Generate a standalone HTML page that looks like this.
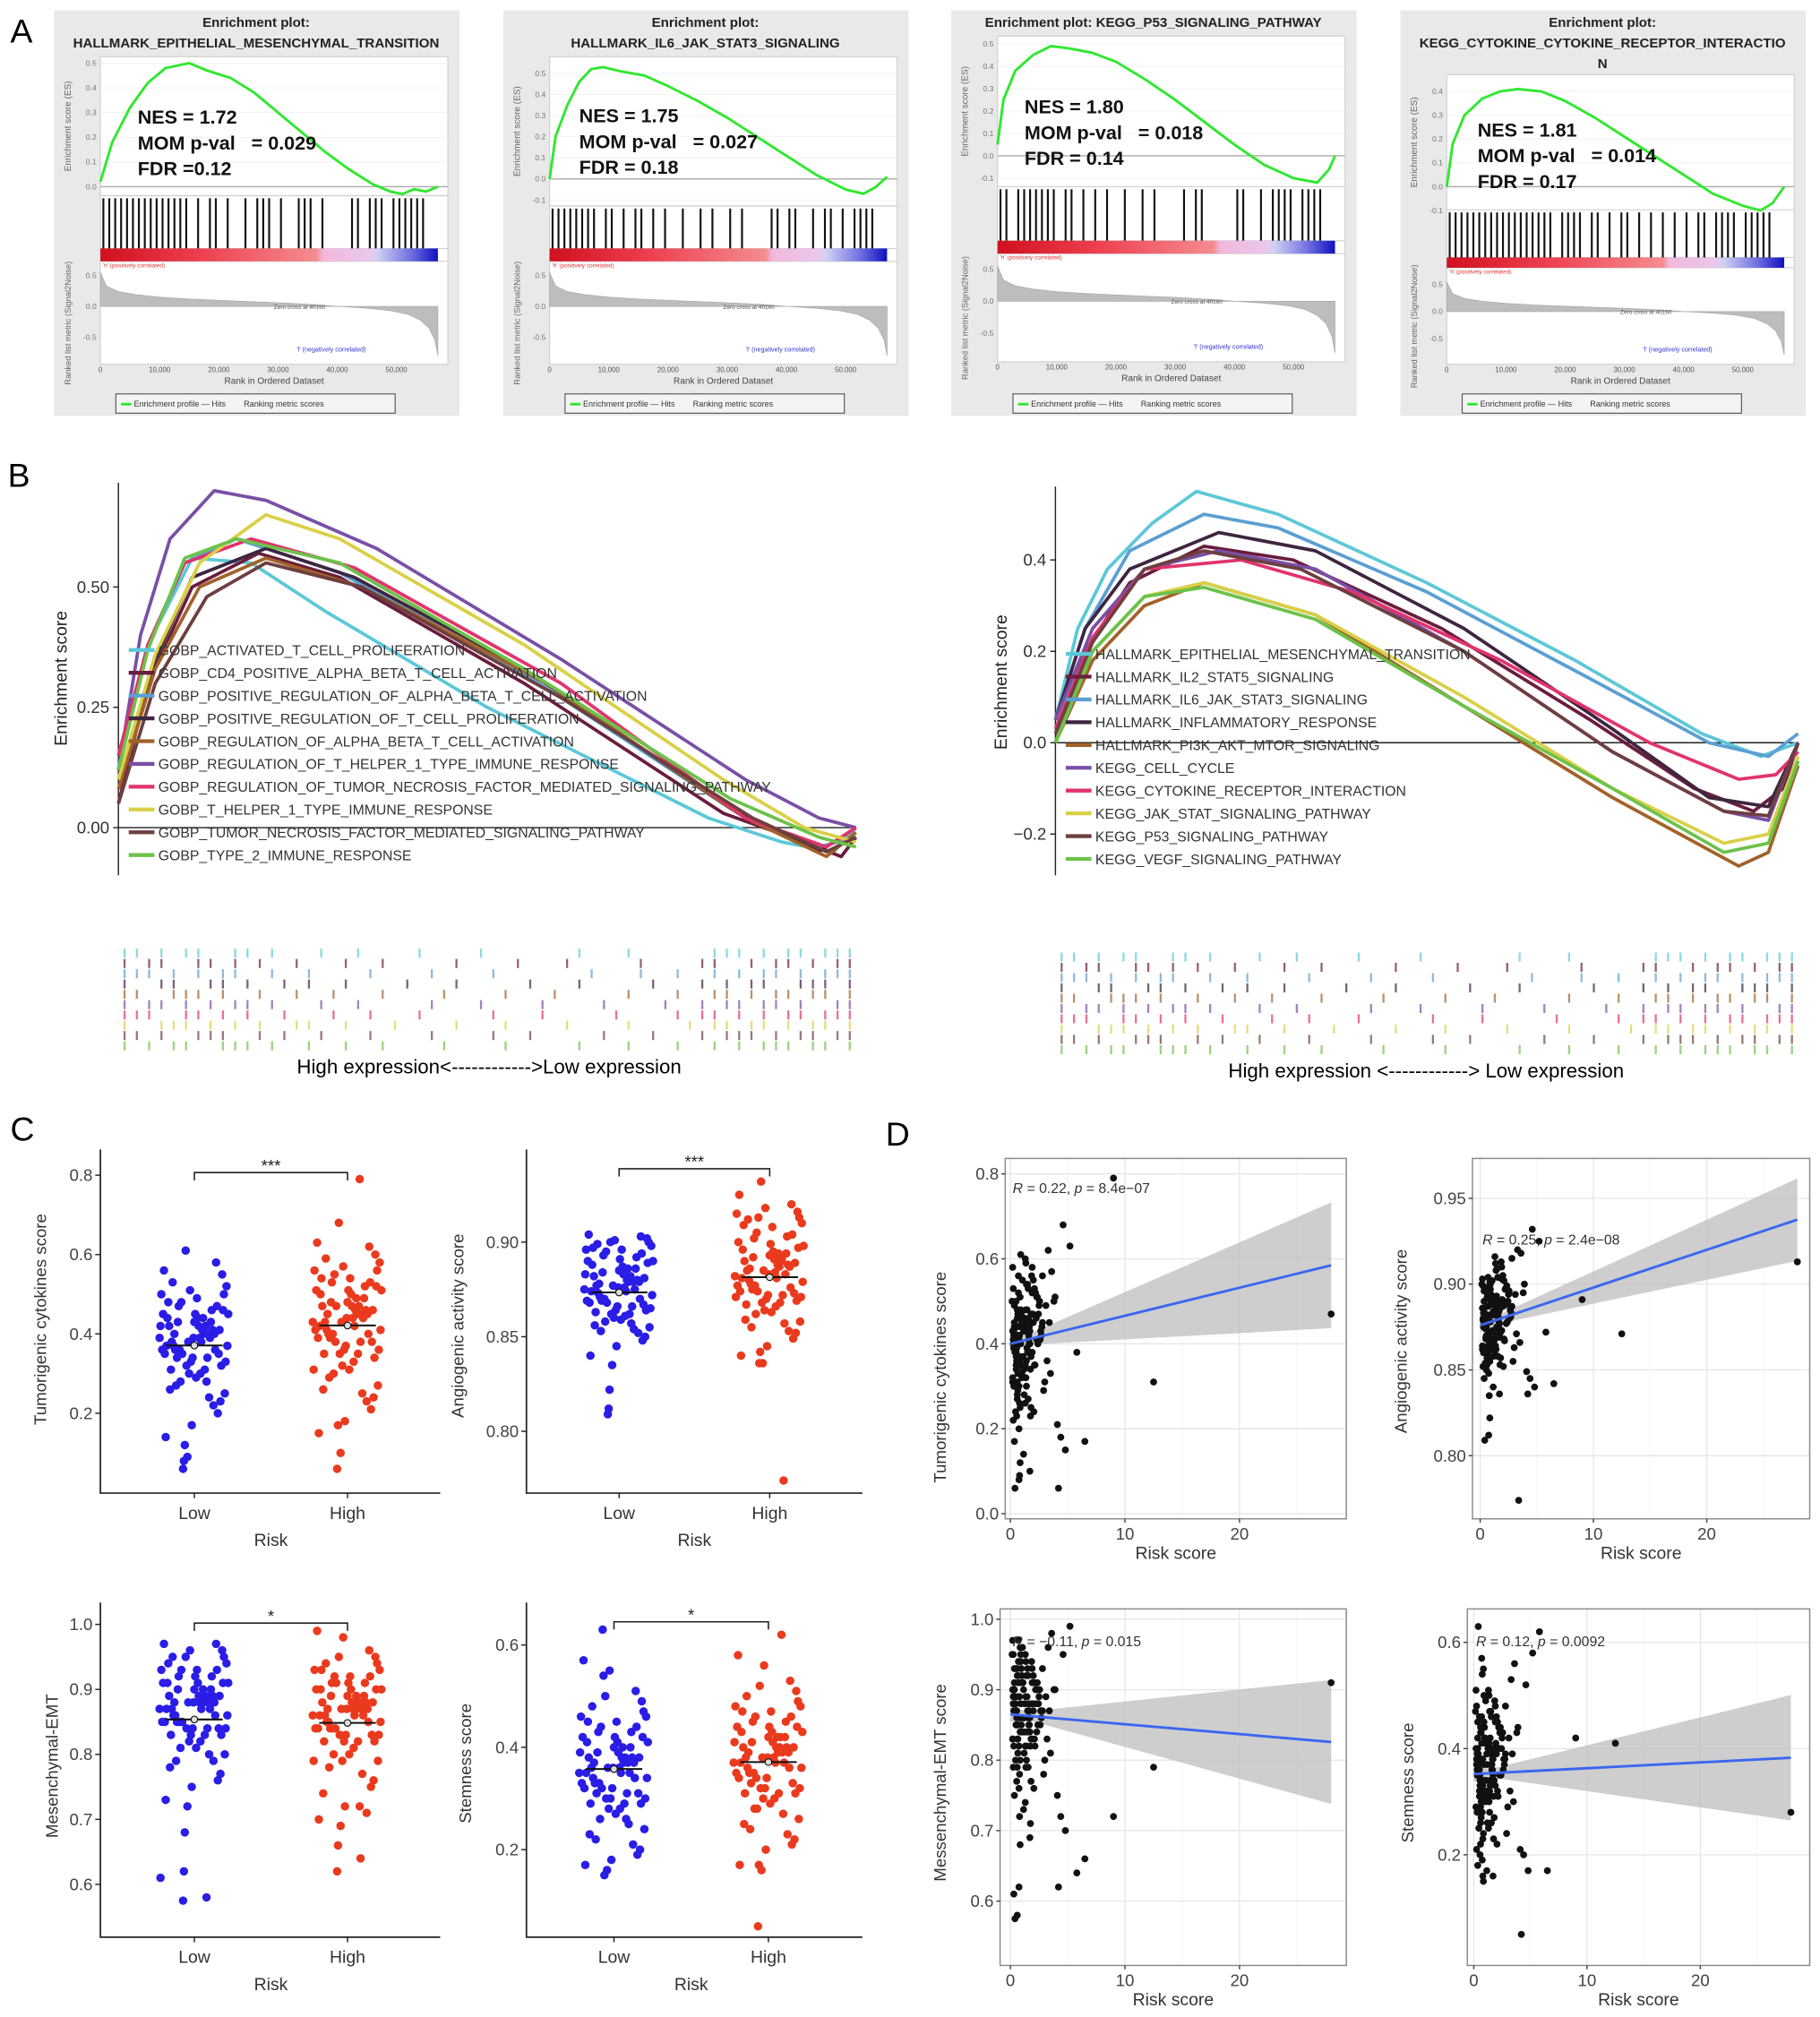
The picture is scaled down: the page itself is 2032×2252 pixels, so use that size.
<!DOCTYPE html>
<html><head><meta charset="utf-8"><title>GSEA and risk score figure</title>
<style>
html,body{margin:0;padding:0;background:#fff;}
svg{display:block;font-family:"Liberation Sans",Arial,sans-serif;}
.pre{white-space:pre;}
</style></head>
<body>
<svg id="fig" xmlns="http://www.w3.org/2000/svg" width="2032" height="2252" viewBox="0 0 1414 1567">
<defs>
<linearGradient id="cbgrad" x1="0" x2="1" y1="0" y2="0">
<stop offset="0" stop-color="#d0101e"/><stop offset="0.3" stop-color="#ee4050"/><stop offset="0.64" stop-color="#f48c90"/>
<stop offset="0.66" stop-color="#f2b8dc"/><stop offset="0.8" stop-color="#e8c8ec"/><stop offset="0.82" stop-color="#d0d0f4"/>
<stop offset="0.92" stop-color="#7070e0"/><stop offset="1" stop-color="#1010c0"/>
</linearGradient>
</defs>
<text x="8" y="33" font-size="26">A</text>
<text x="6" y="378" font-size="26">B</text>
<text x="8" y="886" font-size="26">C</text>
<text x="688" y="890" font-size="26">D</text>
<text x="380" y="834" font-size="15.5" text-anchor="middle" class="pre">High expression&lt;------------&gt;Low expression</text>
<text x="1108" y="837" font-size="15.5" text-anchor="middle" class="pre">High expression &lt;------------&gt; Low expression</text>
</svg>
<script>
// ---------- DATA ----------
const gseaRanks1=[0,2,5,8,11,15,18,22,26,30,34,38,42,46,49,51,53,55,57];
const gseaES1=[0.02,0.18,0.32,0.42,0.48,0.50,0.47,0.44,0.38,0.30,0.22,0.14,0.07,0.01,-0.02,-0.03,-0.01,-0.02,0.0];
const gseaRanks2=[0,1,3,5,7,9,12,16,20,25,30,35,40,45,50,53,55,57];
const gseaES2=[0.0,0.2,0.35,0.46,0.52,0.53,0.51,0.49,0.44,0.37,0.29,0.20,0.11,0.02,-0.05,-0.07,-0.04,0.01];
const gseaRanks3=[0,1,3,6,9,12,16,20,25,30,35,40,45,50,54,56,57];
const gseaES3=[0.05,0.25,0.38,0.45,0.49,0.48,0.46,0.42,0.34,0.25,0.15,0.05,-0.04,-0.10,-0.12,-0.06,0.0];
const gseaRanks4=[0,1,3,6,9,12,16,20,25,30,35,40,45,50,53,55,57];
const gseaES4=[0.0,0.18,0.30,0.37,0.40,0.41,0.40,0.36,0.29,0.21,0.13,0.05,-0.03,-0.08,-0.10,-0.07,0.0];
const gseaHits=[
"1111111111111110101101001011101001110100001101110111111",
"1111111101101011010100100101001010000110110010110101111",
"1101111111011010101001001010000101100000110010111101111",
"1111111111111111110111101101011010101010101101111011111"];
const gseaTitles=[["Enrichment plot:","HALLMARK_EPITHELIAL_MESENCHYMAL_TRANSITION"],["Enrichment plot:","HALLMARK_IL6_JAK_STAT3_SIGNALING"],["Enrichment plot: KEGG_P53_SIGNALING_PATHWAY"],["Enrichment plot:","KEGG_CYTOKINE_CYTOKINE_RECEPTOR_INTERACTIO","N"]];
const gseaNES=["1.72","1.75","1.80","1.81"];
const gseaPval=["0.029","0.027","0.018","0.014"];
const gseaFDR=["=0.12","= 0.18","= 0.14","= 0.17"];
const metricRanks=[0,1,3,6,10,15,22,30,36,40.16,45,49,52,54,55.5,56.5,57];
const metricVals=[0.55,0.33,0.24,0.19,0.15,0.12,0.09,0.06,0.03,0.0,-0.03,-0.07,-0.13,-0.22,-0.35,-0.55,-0.8];

const bLeftNames=["GOBP_ACTIVATED_T_CELL_PROLIFERATION","GOBP_CD4_POSITIVE_ALPHA_BETA_T_CELL_ACTIVATION","GOBP_POSITIVE_REGULATION_OF_ALPHA_BETA_T_CELL_ACTIVATION","GOBP_POSITIVE_REGULATION_OF_T_CELL_PROLIFERATION","GOBP_REGULATION_OF_ALPHA_BETA_T_CELL_ACTIVATION","GOBP_REGULATION_OF_T_HELPER_1_TYPE_IMMUNE_RESPONSE","GOBP_REGULATION_OF_TUMOR_NECROSIS_FACTOR_MEDIATED_SIGNALING_PATHWAY","GOBP_T_HELPER_1_TYPE_IMMUNE_RESPONSE","GOBP_TUMOR_NECROSIS_FACTOR_MEDIATED_SIGNALING_PATHWAY","GOBP_TYPE_2_IMMUNE_RESPONSE"];
const bRightNames=["HALLMARK_EPITHELIAL_MESENCHYMAL_TRANSITION","HALLMARK_IL2_STAT5_SIGNALING","HALLMARK_IL6_JAK_STAT3_SIGNALING","HALLMARK_INFLAMMATORY_RESPONSE","HALLMARK_PI3K_AKT_MTOR_SIGNALING","KEGG_CELL_CYCLE","KEGG_CYTOKINE_RECEPTOR_INTERACTION","KEGG_JAK_STAT_SIGNALING_PATHWAY","KEGG_P53_SIGNALING_PATHWAY","KEGG_VEGF_SIGNALING_PATHWAY"];
const bColors=["#5cc8d8","#6a1d3c","#5b9fd2","#3e2540","#a2622a","#7a4fa6","#e2336c","#d9d047","#6d3f3f","#6cc24a"];
const bLeftX=[
[0,0.04,0.1,0.18,0.28,0.5,0.8,0.9,0.97,1],
[0,0.04,0.1,0.19,0.3,0.55,0.82,0.93,0.98,1],
[0,0.04,0.09,0.16,0.3,0.55,0.84,0.95,1],
[0,0.05,0.1,0.2,0.32,0.55,0.83,0.95,1],
[0,0.05,0.11,0.2,0.33,0.58,0.85,0.96,1],
[0,0.03,0.07,0.13,0.2,0.35,0.6,0.85,0.95,1],
[0,0.04,0.09,0.18,0.32,0.6,0.85,0.96,1],
[0,0.05,0.11,0.2,0.3,0.55,0.82,0.93,1],
[0,0.05,0.12,0.2,0.33,0.6,0.86,0.96,1],
[0,0.04,0.09,0.16,0.3,0.55,0.83,0.95,1]];
const bLeftES=[
[0.15,0.38,0.56,0.55,0.45,0.25,0.02,-0.03,-0.05,0],
[0.05,0.3,0.5,0.57,0.52,0.3,0.03,-0.03,-0.06,-0.02],
[0.12,0.38,0.55,0.6,0.53,0.32,0.03,-0.04,-0.02],
[0.1,0.35,0.52,0.58,0.52,0.33,0.04,-0.05,0],
[0.08,0.33,0.5,0.56,0.5,0.3,0.02,-0.06,-0.01],
[0.12,0.4,0.6,0.7,0.68,0.58,0.35,0.1,0.02,0],
[0.15,0.38,0.55,0.6,0.54,0.3,0.02,-0.04,0],
[0.1,0.36,0.55,0.65,0.6,0.38,0.1,0.0,-0.03],
[0.05,0.3,0.48,0.55,0.5,0.27,0.02,-0.05,-0.02],
[0.12,0.37,0.56,0.6,0.55,0.33,0.06,-0.02,-0.04]];
const bRightX=[
[0,0.03,0.07,0.13,0.19,0.3,0.5,0.7,0.87,0.95,1],
[0,0.04,0.1,0.2,0.32,0.52,0.72,0.86,0.94,0.98,1],
[0,0.04,0.1,0.2,0.3,0.5,0.72,0.88,0.96,1],
[0,0.04,0.1,0.22,0.35,0.55,0.75,0.88,0.96,1],
[0,0.05,0.12,0.2,0.35,0.55,0.75,0.92,0.96,1],
[0,0.05,0.12,0.22,0.35,0.55,0.75,0.9,0.96,1],
[0,0.05,0.12,0.25,0.4,0.6,0.8,0.92,0.97,1],
[0,0.05,0.12,0.2,0.35,0.55,0.75,0.9,0.96,1],
[0,0.05,0.12,0.2,0.33,0.55,0.75,0.9,0.96,1],
[0,0.05,0.12,0.2,0.35,0.55,0.75,0.9,0.96,1]];
const bRightES=[
[0.05,0.25,0.38,0.48,0.55,0.5,0.35,0.18,0.02,-0.03,0],
[0.0,0.2,0.35,0.43,0.4,0.25,0.05,-0.1,-0.15,-0.1,0],
[0.05,0.25,0.42,0.5,0.47,0.33,0.14,0.0,-0.03,0.02],
[0.05,0.25,0.38,0.46,0.42,0.25,0.03,-0.12,-0.14,0],
[0.0,0.18,0.3,0.35,0.28,0.08,-0.12,-0.27,-0.24,-0.05],
[0.05,0.25,0.38,0.42,0.38,0.2,-0.02,-0.15,-0.17,0],
[0.03,0.23,0.38,0.4,0.33,0.18,0.0,-0.08,-0.07,-0.02],
[0.0,0.2,0.32,0.35,0.28,0.1,-0.1,-0.22,-0.2,-0.03],
[0.02,0.22,0.38,0.42,0.38,0.2,-0.02,-0.15,-0.16,0],
[0.0,0.2,0.32,0.34,0.27,0.08,-0.1,-0.24,-0.22,-0.04]];
const rugRows=[
"110101100110100010010000100001000000010001000000111010110111",
"101100110101001000100100000100001000100000100001100101101011",
"111010101100100100001000010000100000001000100100101011010111",
"100110011010010100100001000100000100010000010001010110011101",
"110011101001001001000100001000010001000001000100110101101101",
"101101010110100010010000010001000010000100001001011011010011",
"111001101010010001001000100000100010000010000101101010110111",
"100111010101001100100010000100010000100001000010110110101101",
"110100111001010010001000010000100100000100010001011101011011",
"101011001110100100100100001000010000010001000100101011101101"];

const tumorLow=[0.39,0.42,0.35,0.45,0.31,0.48,0.37,0.40,0.28,0.52,0.44,0.36,0.33,0.41,0.47,0.25,0.38,0.43,0.50,0.30,0.34,0.46,0.39,0.27,0.55,0.42,0.36,0.32,0.44,0.40,0.23,0.49,0.37,0.41,0.29,0.53,0.35,0.45,0.38,0.20,0.43,0.31,0.47,0.39,0.26,0.58,0.34,0.42,0.36,0.17,0.48,0.40,0.33,0.44,0.22,0.51,0.37,0.41,0.30,0.14,0.46,0.38,0.35,0.43,0.09,0.56,0.39,0.32,0.45,0.24,0.61,0.36,0.40,0.12,0.50,0.34,0.08,0.42,0.28,0.06];
const tumorHigh=[0.43,0.47,0.38,0.51,0.35,0.55,0.41,0.45,0.30,0.58,0.49,0.40,0.36,0.46,0.53,0.27,0.42,0.48,0.56,0.33,0.39,0.52,0.44,0.29,0.60,0.47,0.40,0.34,0.50,0.45,0.24,0.54,0.41,0.46,0.31,0.59,0.38,0.51,0.43,0.21,0.48,0.35,0.53,0.44,0.26,0.62,0.37,0.47,0.40,0.18,0.54,0.45,0.36,0.50,0.23,0.57,0.42,0.46,0.32,0.15,0.52,0.43,0.39,0.49,0.10,0.63,0.44,0.35,0.51,0.25,0.68,0.41,0.45,0.17,0.56,0.38,0.06,0.31,0.79,0.47];
const angioLow=[0.875,0.882,0.868,0.890,0.862,0.895,0.872,0.879,0.858,0.898,0.886,0.870,0.865,0.880,0.893,0.855,0.874,0.884,0.900,0.861,0.869,0.889,0.876,0.853,0.902,0.883,0.871,0.864,0.887,0.878,0.850,0.896,0.873,0.881,0.859,0.899,0.867,0.891,0.877,0.848,0.885,0.863,0.894,0.876,0.856,0.903,0.866,0.882,0.870,0.845,0.897,0.879,0.864,0.888,0.852,0.901,0.874,0.880,0.860,0.840,0.892,0.877,0.868,0.886,0.835,0.904,0.875,0.862,0.890,0.854,0.900,0.869,0.879,0.822,0.896,0.866,0.812,0.883,0.857,0.809];
const angioHigh=[0.882,0.890,0.874,0.898,0.868,0.905,0.879,0.887,0.862,0.910,0.894,0.877,0.871,0.888,0.902,0.858,0.881,0.892,0.913,0.866,0.875,0.897,0.884,0.855,0.916,0.891,0.878,0.869,0.895,0.886,0.852,0.908,0.880,0.889,0.863,0.912,0.873,0.899,0.885,0.849,0.893,0.867,0.904,0.883,0.859,0.920,0.872,0.890,0.876,0.845,0.909,0.887,0.870,0.896,0.853,0.918,0.881,0.888,0.864,0.840,0.903,0.885,0.874,0.894,0.836,0.925,0.883,0.868,0.900,0.857,0.932,0.877,0.774,0.842,0.915,0.872,0.836,0.871,0.891,0.913];
const emtLow=[0.87,0.89,0.85,0.91,0.83,0.93,0.86,0.88,0.81,0.94,0.90,0.85,0.84,0.89,0.92,0.80,0.87,0.90,0.95,0.82,0.85,0.91,0.88,0.79,0.96,0.89,0.86,0.83,0.91,0.88,0.77,0.93,0.86,0.89,0.81,0.95,0.84,0.92,0.87,0.76,0.90,0.83,0.93,0.88,0.78,0.97,0.84,0.89,0.86,0.75,0.94,0.88,0.83,0.91,0.79,0.96,0.87,0.89,0.82,0.73,0.92,0.88,0.85,0.90,0.72,0.97,0.87,0.84,0.91,0.80,0.95,0.85,0.88,0.68,0.93,0.84,0.62,0.61,0.58,0.575];
const emtHigh=[0.86,0.88,0.84,0.90,0.82,0.92,0.85,0.87,0.80,0.93,0.89,0.84,0.83,0.88,0.91,0.79,0.86,0.89,0.94,0.81,0.84,0.90,0.87,0.78,0.95,0.88,0.85,0.82,0.90,0.87,0.76,0.92,0.85,0.88,0.80,0.94,0.83,0.91,0.86,0.75,0.89,0.82,0.92,0.87,0.74,0.96,0.83,0.88,0.85,0.72,0.93,0.87,0.82,0.90,0.71,0.98,0.86,0.88,0.79,0.70,0.91,0.87,0.84,0.89,0.69,0.99,0.86,0.83,0.90,0.77,0.95,0.84,0.87,0.66,0.93,0.64,0.62,0.79,0.72,0.91];
const stemLow=[0.35,0.38,0.32,0.41,0.29,0.44,0.34,0.37,0.26,0.46,0.40,0.33,0.30,0.38,0.43,0.24,0.35,0.39,0.47,0.28,0.31,0.42,0.36,0.22,0.49,0.39,0.33,0.29,0.41,0.37,0.20,0.45,0.34,0.38,0.27,0.48,0.31,0.42,0.36,0.19,0.40,0.29,0.44,0.36,0.23,0.51,0.32,0.38,0.34,0.18,0.45,0.37,0.30,0.41,0.21,0.55,0.35,0.38,0.28,0.17,0.43,0.36,0.32,0.40,0.16,0.57,0.35,0.30,0.42,0.25,0.50,0.33,0.37,0.15,0.46,0.31,0.54,0.39,0.26,0.63];
const stemHigh=[0.37,0.40,0.34,0.43,0.31,0.46,0.36,0.39,0.28,0.48,0.42,0.35,0.32,0.40,0.45,0.26,0.37,0.41,0.49,0.30,0.33,0.44,0.38,0.24,0.51,0.41,0.35,0.31,0.43,0.39,0.22,0.47,0.36,0.40,0.29,0.50,0.33,0.44,0.38,0.21,0.42,0.31,0.46,0.38,0.25,0.53,0.34,0.40,0.36,0.20,0.47,0.39,0.32,0.43,0.23,0.56,0.37,0.40,0.30,0.17,0.45,0.38,0.34,0.42,0.16,0.58,0.37,0.32,0.44,0.27,0.52,0.35,0.39,0.17,0.48,0.62,0.05,0.41,0.42,0.28];
const riskLow=[0.3,0.8,0.5,1.1,0.2,0.6,0.9,0.4,1.2,0.7,0.35,0.55,1.0,0.25,0.65,0.85,0.45,1.15,0.15,0.75,0.5,0.95,0.3,0.6,1.05,0.4,0.8,0.2,0.7,0.9,0.55,0.35,1.1,0.45,0.65,0.25,0.85,1.0,0.5,0.75,0.3,0.6,0.95,0.4,0.8,0.2,1.2,0.7,0.55,0.35,0.9,0.45,0.65,1.05,0.25,0.85,0.5,0.75,0.3,1.15,0.6,0.4,0.95,0.2,0.8,0.7,0.55,1.0,0.35,0.45,0.9,0.65,0.25,0.85,0.5,1.1,0.75,0.3,0.6,0.4];
const riskHigh=[1.2,1.8,1.5,2.3,1.3,2.0,1.6,2.8,1.4,1.9,2.5,1.7,3.2,1.25,2.1,1.55,2.7,1.35,1.85,3.5,1.45,2.2,1.65,2.9,1.3,1.95,2.4,1.75,3.8,1.5,2.05,1.4,2.6,1.6,3.0,1.35,1.9,2.35,1.7,4.1,1.45,2.15,1.55,2.75,1.3,3.3,1.8,2.45,1.65,4.4,1.5,2.0,1.4,2.55,1.75,3.6,1.6,2.25,1.35,4.8,1.9,2.65,1.45,3.1,1.7,5.2,1.55,2.1,3.9,1.8,4.6,2.3,3.4,6.5,2.8,5.8,4.2,12.5,9.0,28.0];
const cTitles=["Tumorigenic cytokines score","Angiogenic activity score","Mesenchymal-EMT","Stemness score"];
const dTitles=["Tumorigenic cytokines score","Angiogenic activity score","Messenchymal-EMT score","Stemness score"];
const cSig=["***","***","*","*"];
const cTicks=[[0.2,0.4,0.6,0.8],[0.80,0.85,0.90],[0.6,0.7,0.8,0.9,1.0],[0.2,0.4,0.6]];
const cTickLabels=[["0.2","0.4","0.6","0.8"],["0.80","0.85","0.90"],["0.6","0.7","0.8","0.9","1.0"],["0.2","0.4","0.6"]];
const dTicks=[[0,0.2,0.4,0.6,0.8],[0.80,0.85,0.90,0.95],[0.6,0.7,0.8,0.9,1.0],[0.2,0.4,0.6]];
const dTickLabels=[["0.0","0.2","0.4","0.6","0.8"],["0.80","0.85","0.90","0.95"],["0.6","0.7","0.8","0.9","1.0"],["0.2","0.4","0.6"]];
const riskTicks=[0,10,20];
const corrR=["0.22","0.25","\u22120.11","0.12"];
const corrP=["8.4e\u221207","2.4e\u221208","0.015","0.0092"];
const fitIntercept=[0.40,0.876,0.865,0.352];
const fitSlope=[0.0066,0.0022,-0.0014,0.0011];
const bandHalfMin=[0.012,0.0025,0.006,0.008];
const bandHalfEnd=[0.148,0.024,0.088,0.118];

// ---------- HELPERS ----------
const NS="http://www.w3.org/2000/svg";
const svg=document.getElementById('fig');
function mk(tag,attrs,parent){const e=document.createElementNS(NS,tag);for(const k in attrs)e.setAttribute(k,attrs[k]);(parent||svg).appendChild(e);return e;}
function tx(x,y,s,attrs,parent){const e=mk('text',Object.assign({x:x,y:y},attrs||{}),parent);e.textContent=s;return e;}
function grp(){return mk('g',{});}

// ---------- PANEL A ----------
const aBoxes=[
{x0:42,titleY:[17,33],esTop:44,esBot:152,esZero:145,esPer:192,esTicks:[0,0.1,0.2,0.3,0.4,0.5],hitsBot:193,cbBot:203,metTop:203,metBot:283,metZero:238,metPer:48,nes:[107,96]},
{x0:391,titleY:[17,33],esTop:44,esBot:160,esZero:139,esPer:164,esTicks:[-0.1,0,0.1,0.2,0.3,0.4,0.5],hitsBot:193,cbBot:203,metTop:203,metBot:283,metZero:238,metPer:48,nes:[450,95]},
{x0:739,titleY:[17],esTop:28,esBot:145,esZero:121,esPer:174,esTicks:[-0.1,0,0.1,0.2,0.3,0.4,0.5],hitsBot:187,cbBot:197,metTop:197,metBot:281,metZero:234,metPer:50,nes:[796,88]},
{x0:1088,titleY:[17,33,49],esTop:58,esBot:163,esZero:145,esPer:185,esTicks:[-0.1,0,0.1,0.2,0.3,0.4],hitsBot:200,cbBot:208,metTop:208,metBot:283,metZero:242,metPer:42,nes:[1148,106]}];
const aRanks=[gseaRanks1,gseaRanks2,gseaRanks3,gseaRanks4];
const aES=[gseaES1,gseaES2,gseaES3,gseaES4];
aBoxes.forEach((c,bi)=>{
  const g=grp();
  
  
  const bg=mk('rect',{x:c.x0,y:8,width:315,height:315,fill:'#e9e9e9'},g);
  
  
  gseaTitles[bi].forEach((t,ti)=>{
    const e=tx(c.x0+157,c.titleY[ti]+4,t,{'font-size':10.5,'font-weight':'bold','text-anchor':'middle',fill:'#222'},g);
    
    
  });
  const L=c.x0+36, R=c.x0+306, xS=k=>L+k*4.6;
  const fr=mk('rect',{x:L,y:c.esTop,width:R-L,height:c.metBot-c.esTop,fill:'#fff',stroke:'#cfcfcf','stroke-width':0.8},g);
  
  
  [c.esBot,c.hitsBot,c.cbBot].forEach(yy=>{const l=mk('line',{x1:L,x2:R,y1:yy,y2:yy,stroke:'#cfcfcf','stroke-width':0.8},g);});
  const yE=v=>c.esZero-v*c.esPer;
  c.esTicks.forEach(t=>{
    const e=tx(L-3,yE(t)+2,t.toFixed(1),{'font-size':6,'text-anchor':'end',fill:'#777'},g);
    
    
    const gl=mk('line',{x1:L,x2:R,y1:yE(t),y2:yE(t),stroke:t===0?'#aaa':'#eee','stroke-width':t===0?1:0.5},g);
    
    
  });
  const yl=tx(0,0,'Enrichment score (ES)',{'font-size':7,fill:'#666','text-anchor':'middle',transform:`translate(${c.x0+13},${(c.esTop+c.esBot)/2}) rotate(-90)`},g);
  
  
  gseaHits[bi].split('').forEach((ch,i)=>{
    if(ch!=='1')return;
    const h=mk('line',{x1:xS(i+0.5),x2:xS(i+0.5),y1:c.esBot+2,y2:c.hitsBot,stroke:'#111','stroke-width':1.5},g);
    
    
  });
  const cb=mk('rect',{x:L,y:c.hitsBot,width:xS(57)-L,height:c.cbBot-c.hitsBot,fill:'url(#cbgrad)'},g);
  
  
  const pc=tx(L+2,c.cbBot+4.5,"'h' (positively correlated)",{'font-size':4.5,fill:'#e03030'},g);
  
  
  const yM=v=>c.metZero-v*c.metPer;
  let d=`M${xS(0)},${yM(0)}`;
  metricRanks.forEach((r,i)=>{d+=` L${xS(r)},${yM(metricVals[i])}`;});
  d+=` L${xS(57)},${yM(0)} Z`;
  const ma=mk('path',{d:d,fill:'#bdbdbd',stroke:'#aaa','stroke-width':0.5},g);
  
  
  [0.5,0,-0.5].forEach(t=>{const e=tx(L-3,yM(t)+2,t.toFixed(1),{'font-size':6,'text-anchor':'end',fill:'#777'},g);});
  const zc=tx(xS(38),yM(0)+2,'Zero cross at 40160',{'font-size':4.5,fill:'#555','text-anchor':'end'},g);
  
  
  const nc=tx(xS(39),c.metBot-10,"'l' (negatively correlated)",{'font-size':5,fill:'#3333cc','text-anchor':'middle'},g);
  
  
  const ml=tx(0,0,'Ranked list metric (Signal2Noise)',{'font-size':6.5,fill:'#666','text-anchor':'middle',transform:`translate(${c.x0+13},${(c.metTop+c.metBot)/2+8}) rotate(-90)`},g);
  
  
  [0,10,20,30,40,50].forEach(k=>{const e=tx(xS(k),c.metBot+6,k===0?'0':k+',000',{'font-size':5.5,fill:'#555','text-anchor':'middle'},g);});
  const rl=tx((L+R)/2,c.metBot+15,'Rank in Ordered Dataset',{'font-size':7,fill:'#444','text-anchor':'middle'},g);
  
  
  const pts=aRanks[bi].map((r,i)=>xS(r)+','+yE(aES[bi][i])).join(' ');
  const cv=mk('polyline',{points:pts,fill:'none',stroke:'#2ee82e','stroke-width':2,'stroke-linejoin':'round'},g);
  
  
  const [nx,ny]=c.nes;
  const t1=tx(nx,ny,'NES = '+gseaNES[bi],{'font-size':15,'font-weight':'bold',fill:'#111'},g);
  
  
  const t2=tx(nx,ny+20,'MOM p-val   = '+gseaPval[bi],{'font-size':15,'font-weight':'bold',fill:'#111',class:'pre'},g);
  
  
  const t3=tx(nx,ny+40,'FDR '+gseaFDR[bi],{'font-size':15,'font-weight':'bold',fill:'#111',class:'pre'},g);
  
  
  const lg=mk('rect',{x:c.x0+48,y:306,width:217,height:15,fill:'#f4f4f4',stroke:'#555','stroke-width':0.8},g);
  
  
  const l1=mk('line',{x1:c.x0+52,x2:c.x0+60,y1:314,y2:314,stroke:'#2ee82e','stroke-width':2},g);
  
  
  const lt=tx(c.x0+62,316,'Enrichment profile — Hits        Ranking metric scores',{'font-size':6.3,fill:'#333',class:'pre'},g);
  
  
});

// ---------- PANEL B ----------
function drawB(cfg){
  const g=grp();
  
  
  const xS=f=>cfg.L+f*(cfg.R-cfg.L), yS=v=>cfg.zeroY-v*cfg.per;
  const ax=mk('line',{x1:cfg.L,x2:cfg.L,y1:cfg.T,y2:cfg.B,stroke:'#222','stroke-width':1},g);
  
  
  const zl=mk('line',{x1:cfg.L,x2:cfg.R,y1:yS(0),y2:yS(0),stroke:'#222','stroke-width':1},g);
  
  
  cfg.ticks.forEach((t,i)=>{
    const tk=mk('line',{x1:cfg.L-4,x2:cfg.L,y1:yS(t),y2:yS(t),stroke:'#222'},g);
    
    
    const e=tx(cfg.L-7,yS(t)+4.5,cfg.tickLabels[i],{'font-size':13,'text-anchor':'end',fill:'#333'},g);
    
    
  });
  const yt=tx(0,0,'Enrichment score',{'font-size':13.5,fill:'#222','text-anchor':'middle',transform:`translate(${cfg.titleX},${cfg.titleY}) rotate(-90)`},g);
  
  
  cfg.xs.forEach((xa,si)=>{
    const pts=xa.map((f,i)=>xS(f)+','+yS(cfg.es[si][i])).join(' ');
    const p=mk('polyline',{points:pts,fill:'none',stroke:bColors[si],'stroke-width':2.6,'stroke-linejoin':'round'},g);
    
    
  });
  cfg.names.forEach((n,i)=>{
    const yy=cfg.legY+i*17.7;
    const l=mk('line',{x1:cfg.legX,x2:cfg.legX+20,y1:yy,y2:yy,stroke:bColors[i],'stroke-width':3},g);
    
    
    const t=tx(cfg.legX+23,yy+4,n,{'font-size':11,fill:'#333'},g);
    
    
  });
  rugRows.forEach((row,ri)=>{
    const yy=cfg.rugT+ri*8;
    row.split('').forEach((ch,i)=>{
      if(ch!=='1')return;
      const f=(i+0.5)/row.length;
      const m=mk('line',{x1:xS(f),x2:xS(f),y1:yy,y2:yy+7,stroke:bColors[ri],'stroke-width':1.6,opacity:0.7},g);
      
      
    });
  });
}
drawB({name:'gobp-enrichment-chart',L:92,R:665,T:375,B:680,zeroY:643,per:374,ticks:[0,0.25,0.5],tickLabels:['0.00','0.25','0.50'],titleX:52,titleY:527,xs:bLeftX,es:bLeftES,names:bLeftNames,legX:100,legY:505,rugT:737});
drawB({name:'hallmark-kegg-enrichment-chart',L:820,R:1397,T:378,B:680,zeroY:577,per:355,ticks:[-0.2,0,0.2,0.4],tickLabels:['\u22120.2','0.0','0.2','0.4'],titleX:782,titleY:530,xs:bRightX,es:bRightES,names:bRightNames,legX:828,legY:508,rugT:740});

// ---------- PANEL C ----------
const cCfg=[
{L:78,R:342,T:893,B:1160,vTop:0.8,yTop:913,per:308.3,lowX:151,highX:270,brY:911,titleX:36,titleY:1025,low:tumorLow,high:tumorHigh},
{L:409,R:670,T:893,B:1160,vTop:0.90,yTop:965,per:1470,lowX:481,highX:598,brY:908,titleX:360,titleY:1030,low:angioLow,high:angioHigh},
{L:78,R:342,T:1245,B:1505,vTop:1.0,yTop:1262,per:505,lowX:151,highX:270,brY:1261,titleX:45,titleY:1372,low:emtLow,high:emtHigh},
{L:409,R:670,T:1245,B:1505,vTop:0.6,yTop:1278,per:397.5,lowX:477,highX:597,brY:1260,titleX:366,titleY:1370,low:stemLow,high:stemHigh}];
cCfg.forEach((c,pi)=>{
  const g=grp();
  
  
  const yS=v=>c.yTop+(c.vTop-v)*c.per;
  const ax=mk('path',{d:`M${c.L},${c.T} V${c.B} H${c.R}`,fill:'none',stroke:'#222','stroke-width':1.2},g);
  
  
  cTicks[pi].forEach((t,i)=>{
    const tk=mk('line',{x1:c.L-4,x2:c.L,y1:yS(t),y2:yS(t),stroke:'#222'},g);
    
    
    const e=tx(c.L-6,yS(t)+4.5,cTickLabels[pi][i],{'font-size':13,'text-anchor':'end',fill:'#444'},g);
    
    
  });
  [['Low',c.lowX],['High',c.highX]].forEach(([n,x])=>{
    const tk=mk('line',{x1:x,x2:x,y1:c.B,y2:c.B+4,stroke:'#222'},g);
    
    
    const e=tx(x,c.B+20,n,{'font-size':13.5,'text-anchor':'middle',fill:'#333'},g);
    
    
  });
  const xt=tx((c.lowX+c.highX)/2,c.B+41,'Risk',{'font-size':13.5,'text-anchor':'middle',fill:'#333'},g);
  
  
  const yt=tx(0,0,cTitles[pi],{'font-size':13,'text-anchor':'middle',fill:'#333',transform:`translate(${c.titleX},${c.titleY}) rotate(-90)`},g);
  
  
  const br=mk('path',{d:`M${c.lowX},${c.brY+6} V${c.brY} H${c.highX} V${c.brY+6}`,fill:'none',stroke:'#222','stroke-width':1.1},g);
  
  
  const st=tx((c.lowX+c.highX)/2,c.brY-1,cSig[pi],{'font-size':13,'text-anchor':'middle',fill:'#222'},g);
  
  
  [[c.low,c.lowX,'#2a1de6','low'],[c.high,c.highX,'#ea3a1e','high']].forEach(([arr,cx,col,nm])=>{
    arr.forEach((v,i)=>{
      const jit=(((i*53)%80)/80-0.5)*54;
      const p=mk('circle',{cx:cx+jit,cy:yS(v),r:3.3,fill:col},g);
      
      
    });
    const mean=arr.reduce((a,b)=>a+b,0)/arr.length;
    const ml=mk('line',{x1:cx-22,x2:cx+22,y1:yS(mean),y2:yS(mean),stroke:'#111','stroke-width':1.4},g);
    
    
    const mc=mk('circle',{cx:cx,cy:yS(mean),r:2.6,fill:'#ddd',stroke:'#111','stroke-width':0.8},g);
    
    
  });
});

// ---------- PANEL D ----------
const riskAll=riskLow.concat(riskHigh);
const dCfg=[
{L:781,R:1046,T:900,B:1180,vTop:0.8,yTop:912,per:330,x0:785,xPer:8.9,titleX:735,titleY:1070,annY:927,vals:tumorLow.concat(tumorHigh)},
{L:1144,R:1406,T:900,B:1180,vTop:0.95,yTop:931,per:1333,x0:1150,xPer:8.8,titleX:1093,titleY:1042,annY:967,vals:angioLow.concat(angioHigh)},
{L:777,R:1046,T:1250,B:1527,vTop:1.0,yTop:1258,per:547.5,x0:785,xPer:8.9,titleX:735,titleY:1385,annY:1279,vals:emtLow.concat(emtHigh)},
{L:1140,R:1406,T:1250,B:1527,vTop:0.6,yTop:1276,per:412.5,x0:1145,xPer:8.8,titleX:1098,titleY:1385,annY:1279,vals:stemLow.concat(stemHigh)}];
dCfg.forEach((c,pi)=>{
  const g=grp();
  
  
  const yS=v=>c.yTop+(c.vTop-v)*c.per, xS=r=>c.x0+r*c.xPer;
  const bg=mk('rect',{x:c.L,y:c.T,width:c.R-c.L,height:c.B-c.T,fill:'#fff'},g);
  
  
  [5,15,25].forEach(r=>{const l=mk('line',{x1:xS(r),x2:xS(r),y1:c.T,y2:c.B,stroke:'#f3f3f3','stroke-width':0.6},g);});
  riskTicks.forEach(r=>{const l=mk('line',{x1:xS(r),x2:xS(r),y1:c.T,y2:c.B,stroke:'#e6e6e6','stroke-width':0.9},g);});
  dTicks[pi].forEach(t=>{const l=mk('line',{x1:c.L,x2:c.R,y1:yS(t),y2:yS(t),stroke:'#e6e6e6','stroke-width':0.9},g);});
  const xm=1.5;
  const half=r=>bandHalfMin[pi]+(bandHalfEnd[pi]-bandHalfMin[pi])*Math.abs(r-xm)/(28-xm);
  const fit=r=>fitIntercept[pi]+fitSlope[pi]*r;
  const rs=[0,1.5,28];
  let d='M'+rs.map(r=>xS(r)+','+yS(fit(r)+half(r))).join(' L');
  d+=' L'+rs.slice().reverse().map(r=>xS(r)+','+yS(fit(r)-half(r))).join(' L')+' Z';
  const band=mk('path',{d:d,fill:'#bdbdbd',opacity:0.75},g);
  
  
  riskAll.forEach((r,i)=>{
    const p=mk('circle',{cx:xS(r),cy:yS(c.vals[i]),r:2.7,fill:'#111'},g);
    
    
  });
  const fl=mk('line',{x1:xS(0),x2:xS(28),y1:yS(fit(0)),y2:yS(fit(28)),stroke:'#3a66f0','stroke-width':2},g);
  
  
  const fr=mk('rect',{x:c.L,y:c.T,width:c.R-c.L,height:c.B-c.T,fill:'none',stroke:'#888','stroke-width':1},g);
  
  
  dTicks[pi].forEach((t,i)=>{
    const tk=mk('line',{x1:c.L-3,x2:c.L,y1:yS(t),y2:yS(t),stroke:'#444'},g);
    
    
    const e=tx(c.L-5,yS(t)+4.5,dTickLabels[pi][i],{'font-size':13,'text-anchor':'end',fill:'#444'},g);
    
    
  });
  riskTicks.forEach(r=>{
    const tk=mk('line',{x1:xS(r),x2:xS(r),y1:c.B,y2:c.B+3,stroke:'#444'},g);
    
    
    const e=tx(xS(r),c.B+16,String(r),{'font-size':13,'text-anchor':'middle',fill:'#444'},g);
    
    
  });
  const xt=tx((c.L+c.R)/2,c.B+31,'Risk score',{'font-size':13.5,'text-anchor':'middle',fill:'#333'},g);
  
  
  const yt=tx(0,0,dTitles[pi],{'font-size':13,'text-anchor':'middle',fill:'#333',transform:`translate(${c.titleX},${c.titleY}) rotate(-90)`},g);
  
  
  const an=mk('text',{x:xS(0.2),y:c.annY,'font-size':11,fill:'#333'},g);
  
  
  an.innerHTML='<tspan font-style="italic">R</tspan> = '+corrR[pi]+', <tspan font-style="italic">p</tspan> = '+corrP[pi];
});
</script>
</body></html>
